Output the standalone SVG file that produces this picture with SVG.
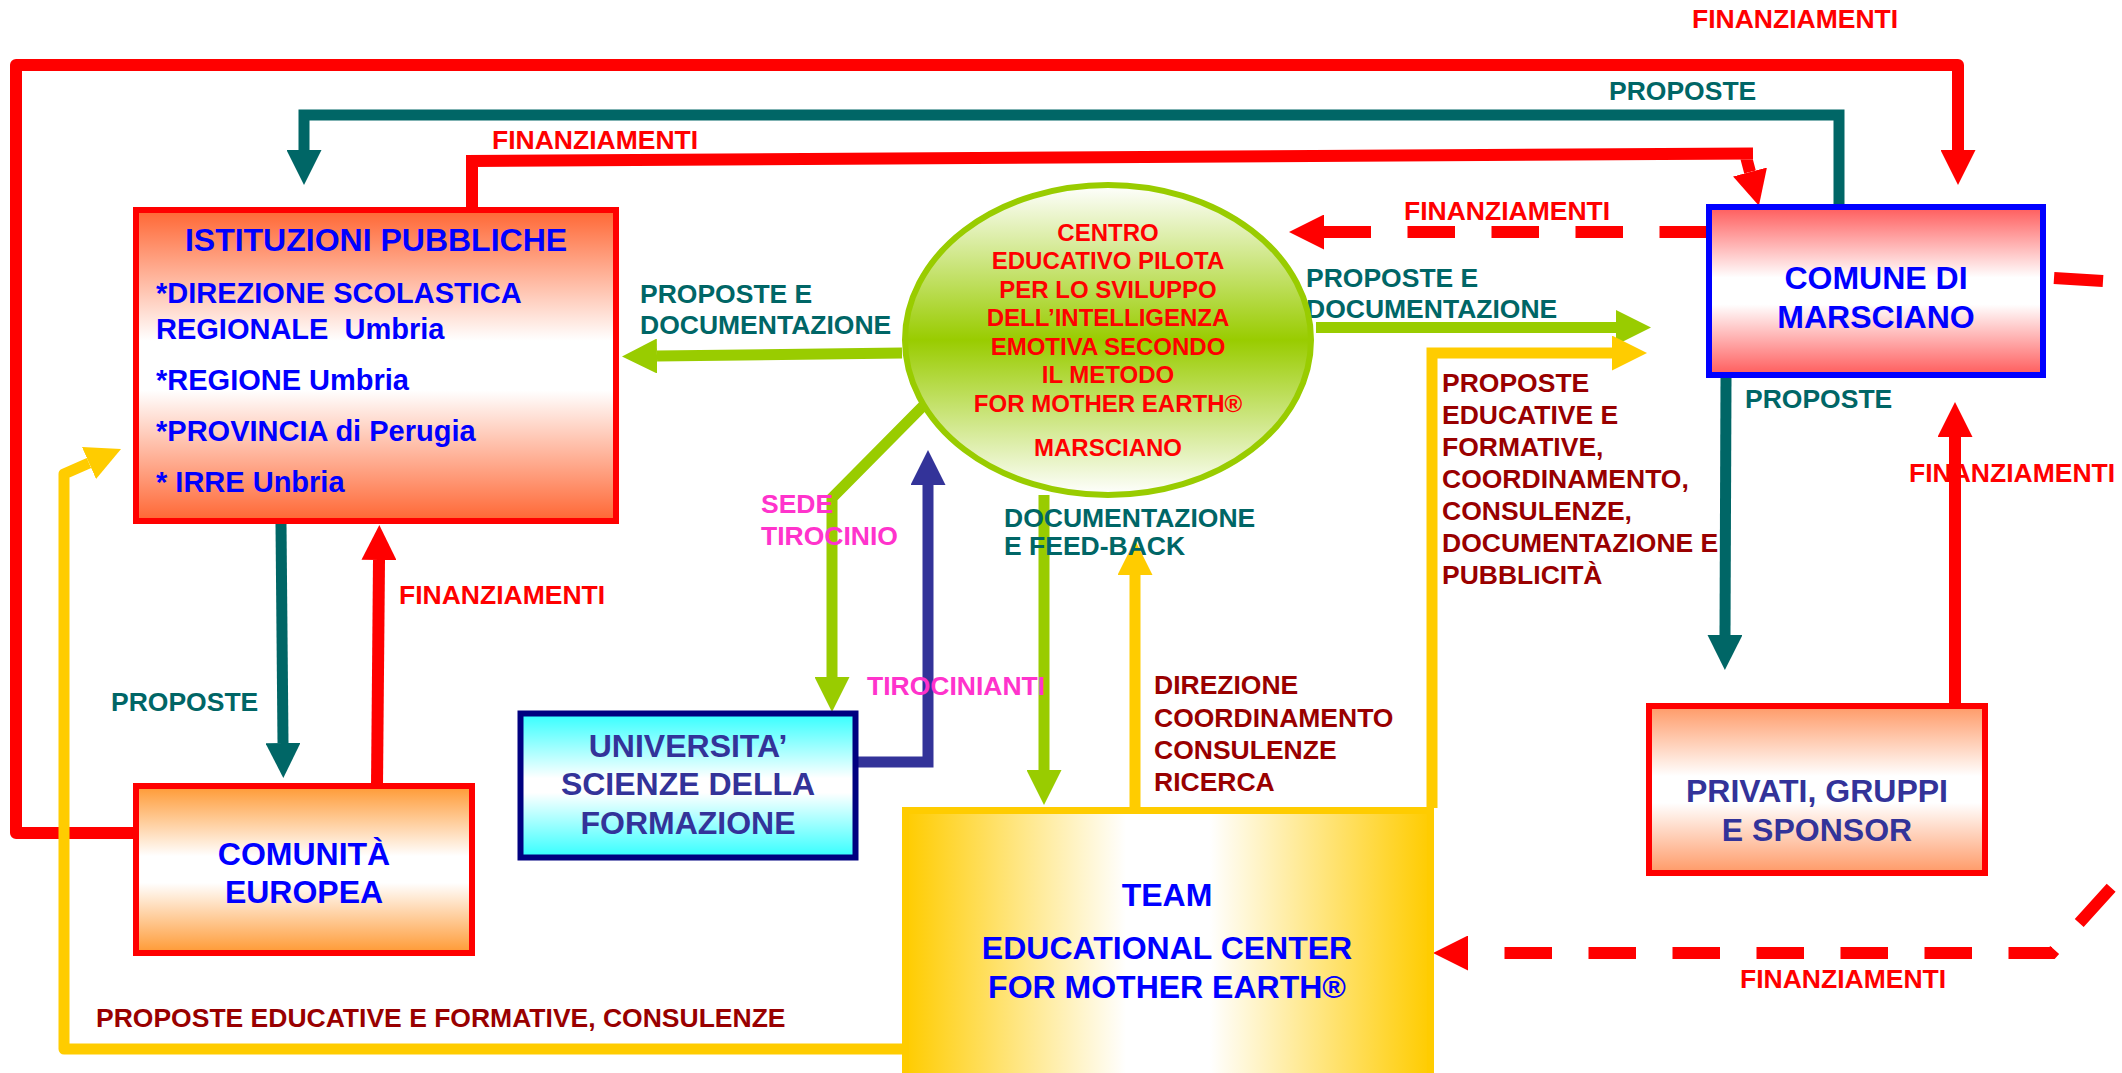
<svg xmlns="http://www.w3.org/2000/svg" width="2122" height="1073" viewBox="0 0 2122 1073">
<style>
text{font-family:"Liberation Sans",Arial,sans-serif;font-weight:bold}
.lbl{font-size:26.5px}
.nd{font-size:32px}
.sub{font-size:29px}
.el{font-size:24px;fill:#FF0000}
.red{fill:#FF0000}.teal{fill:#006666}.dred{fill:#990000}.mag{fill:#FF33CC}.blue{fill:#0000FF}.navy{fill:#333399}
.c{fill:none;stroke-linejoin:miter}
.cr{stroke:#FF0000;stroke-width:12}
.ct{stroke:#006666;stroke-width:11}
.cg{stroke:#99CC00;stroke-width:11}
.cy{stroke:#FFCC00;stroke-width:11}
.cn{stroke:#333399;stroke-width:11}
.dash{stroke-dasharray:47.5 36.5}
</style>
<defs>
<marker id="a-red" markerUnits="userSpaceOnUse" viewBox="0 0 35 35" markerWidth="35" markerHeight="35" refX="0" refY="17.5" orient="auto"><path d="M0,0 L35,17.5 L0,35 Z" fill="#FF0000"/></marker>
<marker id="a-red-s" markerUnits="userSpaceOnUse" viewBox="0 0 35 35" markerWidth="35" markerHeight="35" refX="0" refY="17.5" orient="auto-start-reverse"><path d="M0,0 L35,17.5 L0,35 Z" fill="#FF0000"/></marker>
<marker id="a-teal" markerUnits="userSpaceOnUse" viewBox="0 0 35 35" markerWidth="35" markerHeight="35" refX="0" refY="17.5" orient="auto"><path d="M0,0 L35,17.5 L0,35 Z" fill="#006666"/></marker>
<marker id="a-green" markerUnits="userSpaceOnUse" viewBox="0 0 35 35" markerWidth="35" markerHeight="35" refX="0" refY="17.5" orient="auto"><path d="M0,0 L35,17.5 L0,35 Z" fill="#99CC00"/></marker>
<marker id="a-yellow" markerUnits="userSpaceOnUse" viewBox="0 0 35 35" markerWidth="35" markerHeight="35" refX="0" refY="17.5" orient="auto"><path d="M0,0 L35,17.5 L0,35 Z" fill="#FFCC00"/></marker>
<marker id="a-navy" markerUnits="userSpaceOnUse" viewBox="0 0 35 35" markerWidth="35" markerHeight="35" refX="0" refY="17.5" orient="auto"><path d="M0,0 L35,17.5 L0,35 Z" fill="#333399"/></marker>
<linearGradient id="g-ist" x1="0" y1="0" x2="0" y2="1"><stop offset="0" stop-color="#FF6633"/><stop offset="0.42" stop-color="#FFFFFF"/><stop offset="0.58" stop-color="#FFFFFF"/><stop offset="1" stop-color="#FF6633"/></linearGradient>
<linearGradient id="g-com" x1="0" y1="0" x2="0" y2="1"><stop offset="0" stop-color="#FF5B5B"/><stop offset="0.42" stop-color="#FFFFFF"/><stop offset="0.58" stop-color="#FFFFFF"/><stop offset="1" stop-color="#FF5B5B"/></linearGradient>
<linearGradient id="g-eu" x1="0" y1="0" x2="0" y2="1"><stop offset="0" stop-color="#FF9933"/><stop offset="0.42" stop-color="#FFFFFF"/><stop offset="0.58" stop-color="#FFFFFF"/><stop offset="1" stop-color="#FF9933"/></linearGradient>
<linearGradient id="g-pri" x1="0" y1="0" x2="0" y2="1"><stop offset="0" stop-color="#FF9966"/><stop offset="0.42" stop-color="#FFFFFF"/><stop offset="0.58" stop-color="#FFFFFF"/><stop offset="1" stop-color="#FF9966"/></linearGradient>
<linearGradient id="g-uni" x1="0" y1="0" x2="0" y2="1"><stop offset="0" stop-color="#33FFFF"/><stop offset="0.45" stop-color="#FFFFFF"/><stop offset="0.55" stop-color="#FFFFFF"/><stop offset="1" stop-color="#33FFFF"/></linearGradient>
<linearGradient id="g-team" x1="0" y1="0" x2="1" y2="0"><stop offset="0" stop-color="#FFCC00"/><stop offset="0.42" stop-color="#FFFFFF"/><stop offset="0.58" stop-color="#FFFFFF"/><stop offset="1" stop-color="#FFCC00"/></linearGradient>
<linearGradient id="g-ell" x1="0" y1="0" x2="0" y2="1"><stop offset="0" stop-color="#FFFFFF"/><stop offset="0.5" stop-color="#99CC00"/><stop offset="1" stop-color="#FFFFFF"/></linearGradient>
</defs>
<rect width="2122" height="1073" fill="#FFFFFF"/>

<g id="connectors">
<path class="c cr" style="stroke-linejoin:round" d="M133,833 L16,833 L16,65 L1958,65 L1958,150" marker-end="url(#a-red)"/>
<path class="c ct" d="M1839,207 L1839,115 L304,115 L304,150" marker-end="url(#a-teal)"/>
<path class="c cr" d="M472,207 L472,161 L1753,153.5 M1745,153 L1750,172" marker-end="url(#a-red)"/>
<path class="c cr dash" d="M1707,232 L1324,232" marker-end="url(#a-red)"/>
<path class="c cg" d="M902,353 L657,356" marker-end="url(#a-green)"/>
<path class="c cg" d="M1316,327.5 L1616,327.5" marker-end="url(#a-green)"/>
<path class="c cy" d="M1432,808 L1432,353 L1612,353" marker-end="url(#a-yellow)"/>
<path class="c cy" style="stroke-linejoin:round" d="M902,1049 L64,1049 L64,474 L89,463" marker-end="url(#a-yellow)"/>
<path class="c ct" d="M281,524 L283,743" marker-end="url(#a-teal)"/>
<path class="c cr" d="M377,786 L379,560" marker-end="url(#a-red)"/>
<path class="c cg" d="M927,402 L832,498 L832,677" marker-end="url(#a-green)"/>
<path class="c cn" d="M858,762 L928,762 L928,485" marker-end="url(#a-navy)"/>
<path class="c cg" d="M1044,495 L1044,770" marker-end="url(#a-green)"/>
<path class="c cy" d="M1135,808 L1135,575" marker-end="url(#a-yellow)"/>
<path class="c ct" d="M1726,378 L1725,635" marker-end="url(#a-teal)"/>
<path class="c cr" d="M1955,706 L1955,437" marker-end="url(#a-red)"/>
<path class="c cr dash" style="stroke-dashoffset:47.5" d="M1468,953 L2052,953 L2160,834 L2160,285" marker-start="url(#a-red-s)"/>
<path class="c cr" d="M2054,278 L2103,281"/>
</g>

<g id="labels">
<text class="lbl red" x="1692" y="28">FINANZIAMENTI</text>
<text class="lbl teal" x="1609" y="100">PROPOSTE</text>
<text class="lbl red" x="492" y="149">FINANZIAMENTI</text>
<text class="lbl red" x="1404" y="220">FINANZIAMENTI</text>
<text class="lbl teal" x="640" y="303">PROPOSTE E</text>
<text class="lbl teal" x="640" y="334">DOCUMENTAZIONE</text>
<text class="lbl teal" x="1306" y="287">PROPOSTE E</text>
<text class="lbl teal" x="1306" y="318">DOCUMENTAZIONE</text>
<text class="lbl dred" x="1442" y="392">PROPOSTE</text>
<text class="lbl dred" x="1442" y="424">EDUCATIVE E</text>
<text class="lbl dred" x="1442" y="456">FORMATIVE,</text>
<text class="lbl dred" x="1442" y="488">COORDINAMENTO,</text>
<text class="lbl dred" x="1442" y="520">CONSULENZE,</text>
<text class="lbl dred" x="1442" y="552">DOCUMENTAZIONE E</text>
<text class="lbl dred" x="1442" y="584">PUBBLICITÀ</text>
<text class="lbl teal" x="1745" y="408">PROPOSTE</text>
<text class="lbl red" x="1909" y="482">FINANZIAMENTI</text>
<text class="lbl mag" x="761" y="513">SEDE</text>
<text class="lbl mag" x="761" y="545">TIROCINIO</text>
<text class="lbl teal" x="1004" y="527">DOCUMENTAZIONE</text>
<text class="lbl teal" x="1004" y="555">E FEED-BACK</text>
<text class="lbl red" x="399" y="604">FINANZIAMENTI</text>
<text class="lbl mag" x="867" y="695">TIROCINIANTI</text>
<text class="lbl dred" x="1154" y="694">DIREZIONE</text>
<text class="lbl dred" x="1154" y="727">COORDINAMENTO</text>
<text class="lbl dred" x="1154" y="759">CONSULENZE</text>
<text class="lbl dred" x="1154" y="791">RICERCA</text>
<text class="lbl teal" x="111" y="711">PROPOSTE</text>
<text class="lbl red" x="1740" y="988">FINANZIAMENTI</text>
<text class="lbl dred" x="96" y="1027">PROPOSTE EDUCATIVE E FORMATIVE, CONSULENZE</text>
</g>

<g id="istituzioni">
<rect x="136" y="210" width="480" height="311" fill="url(#g-ist)" stroke="#FF0000" stroke-width="6"/>
<text class="nd blue" x="376" y="251" text-anchor="middle">ISTITUZIONI PUBBLICHE</text>
<text class="sub blue" x="156" y="303">*DIREZIONE SCOLASTICA</text>
<text class="sub blue" x="156" y="339" xml:space="preserve">REGIONALE  Umbria</text>
<text class="sub blue" x="156" y="390">*REGIONE Umbria</text>
<text class="sub blue" x="156" y="441">*PROVINCIA di Perugia</text>
<text class="sub blue" x="156" y="492">* IRRE Unbria</text>
</g>

<g id="centro">
<ellipse cx="1108" cy="340" rx="203" ry="155" fill="url(#g-ell)" stroke="#99CC00" stroke-width="6"/>
<text class="el" x="1108" y="241" text-anchor="middle">CENTRO</text>
<text class="el" x="1108" y="269" text-anchor="middle">EDUCATIVO PILOTA</text>
<text class="el" x="1108" y="298" text-anchor="middle">PER LO SVILUPPO</text>
<text class="el" x="1108" y="326" text-anchor="middle">DELL’INTELLIGENZA</text>
<text class="el" x="1108" y="355" text-anchor="middle">EMOTIVA SECONDO</text>
<text class="el" x="1108" y="383" text-anchor="middle">IL METODO</text>
<text class="el" x="1108" y="412" text-anchor="middle">FOR MOTHER EARTH®</text>
<text class="el" x="1108" y="456" text-anchor="middle">MARSCIANO</text>
</g>

<g id="comune">
<rect x="1709" y="207" width="334" height="168" fill="url(#g-com)" stroke="#0000FF" stroke-width="6"/>
<text class="nd blue" x="1876" y="289" text-anchor="middle">COMUNE DI</text>
<text class="nd blue" x="1876" y="328" text-anchor="middle">MARSCIANO</text>
</g>

<g id="comunita">
<rect x="136" y="786" width="336" height="167" fill="url(#g-eu)" stroke="#FF0000" stroke-width="6"/>
<text class="nd blue" x="304" y="865" text-anchor="middle">COMUNITÀ</text>
<text class="nd blue" x="304" y="903" text-anchor="middle">EUROPEA</text>
</g>

<g id="universita">
<rect x="520.5" y="713.5" width="335" height="144" fill="url(#g-uni)" stroke="#000080" stroke-width="6"/>
<text class="nd navy" x="688" y="757" text-anchor="middle">UNIVERSITA’</text>
<text class="nd navy" x="688" y="795" text-anchor="middle">SCIENZE DELLA</text>
<text class="nd navy" x="688" y="834" text-anchor="middle">FORMAZIONE</text>
</g>

<g id="privati">
<rect x="1649" y="706" width="336" height="167" fill="url(#g-pri)" stroke="#FF0000" stroke-width="6"/>
<text class="nd navy" x="1817" y="802" text-anchor="middle">PRIVATI, GRUPPI</text>
<text class="nd navy" x="1817" y="841" text-anchor="middle">E SPONSOR</text>
</g>

<g id="team">
<rect x="905.5" y="810.5" width="525" height="300" fill="url(#g-team)" stroke="#FFCC00" stroke-width="7"/>
<text class="nd blue" x="1167" y="906" text-anchor="middle">TEAM</text>
<text class="nd blue" x="1167" y="959" text-anchor="middle">EDUCATIONAL CENTER</text>
<text class="nd blue" x="1167" y="998" text-anchor="middle">FOR MOTHER EARTH®</text>
</g>
</svg>
